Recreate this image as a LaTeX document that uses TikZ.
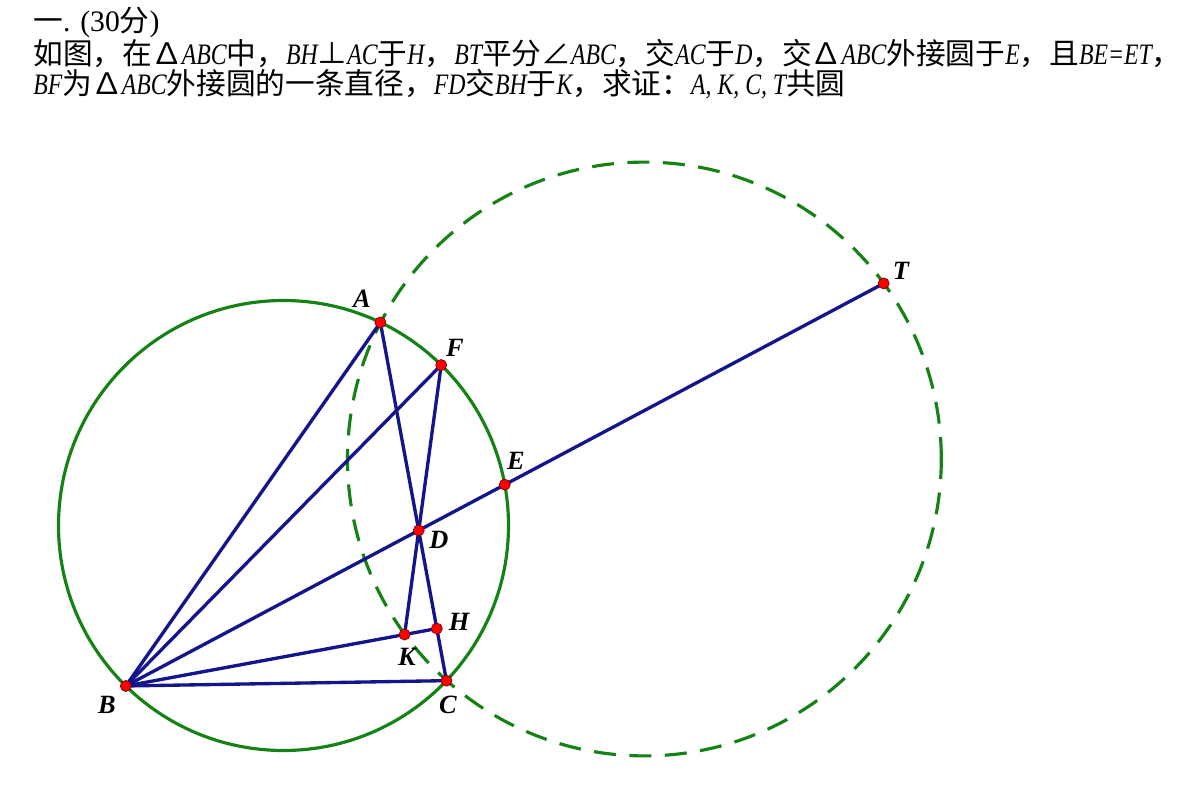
\documentclass[tikz,border=0pt]{standalone}
\usepackage{fontspec}
\setmainfont{Noto Sans CJK SC}
\newfontfamily\latser{Liberation Serif}
\newfontfamily\latit[FakeStretch=0.8]{Liberation Serif}
\newcommand{\mi}[1]{{\latit\itshape #1}}
\usetikzlibrary{calc}
\definecolor{navy}{RGB}{20,20,140}
\definecolor{cgreen}{RGB}{20,130,20}
\tikzset{
  seg/.style={draw=navy, line width=1.9pt},
  circ/.style={draw=cgreen, line width=1.8pt},
  dcirc/.style={draw=cgreen, line width=1.8pt, dash pattern=on 0.44cm off 0.27cm},
  pt/.style={circle, fill=red, draw=red!50!black, line width=0.4pt, inner sep=0pt, minimum size=0.22cm},
  lab/.style={font=\fontsize{15}{17}\selectfont\latser\bfseries\itshape, inner sep=0pt},
  hdr/.style={anchor=base west, inner sep=0pt, font=\fontsize{16.9}{19}\selectfont}
}
\begin{document}
\begin{tikzpicture}[x=0.02cm, y=0.02cm]
\useasboundingbox (0,0) rectangle (1200,802);
% header
\node[hdr] (h1) at (33,770) {一{\latser. (30}分{\latser)}};
\node[hdr] (h2) at (33,737) {如图，在∆\mi{ABC}中，\mi{BH}⊥\mi{AC}于\mi{H}，\mi{BT}平分∠\mi{ABC}，交\mi{AC}于\mi{D}，交∆\mi{ABC}外接圆于\mi{E}，且\mi{BE=ET}，};
\node[hdr] (h3) at (33,707) {\mi{BF}为∆\mi{ABC}外接圆的一条直径，\mi{FD}交\mi{BH}于\mi{K}，求证：\mi{A, K, C, T}共圆};
% geometry
\coordinate (O) at (283.5,276.5);
\coordinate (A) at ($(O)+(64.5:225)$);
\coordinate (B) at ($(O)+(225.5:225)$);
\coordinate (C) at ($(O)+(-43.6:225)$);
\coordinate (F) at ($(O)+(45.5:225)$);
\coordinate (E) at ($(O)+(10.45:225)$);
\coordinate (D) at (intersection of B--E and A--C);
\coordinate (H) at ($(A)!(B)!(C)$);
\coordinate (K) at (intersection of F--D and B--H);
\coordinate (T) at ($(B)!2!(E)$);
\coordinate (P) at (644.4,343.0);
% circles
\draw[circ] (O) circle (225);
\draw[dcirc] (P) circle (296.9);
% segments
\draw[seg] (B) -- (A);
\draw[seg] (B) -- (F);
\draw[seg] (B) -- (T);
\draw[seg] (B) -- (C);
\draw[seg] (A) -- (C);
\draw[seg] (F) -- (K);
\draw[seg] (B) -- (H);
% points
\foreach \p in {A,B,C,D,E,F,H,K,T} \node[pt] (n\p) at (\p) {};
% labels
\node[lab] (lA) at (362,503) {A};
\node[lab] (lF) at (455,454) {F};
\node[lab] (lE) at (516,341) {E};
\node[lab] (lD) at (439,262) {D};
\node[lab] (lH) at (459,180) {H};
\node[lab] (lK) at (407,145) {K};
\node[lab] (lC) at (448,97) {C};
\node[lab] (lB) at (107,97) {B};
\node[lab] (lT) at (901,531) {T};
\end{tikzpicture}
\end{document}
